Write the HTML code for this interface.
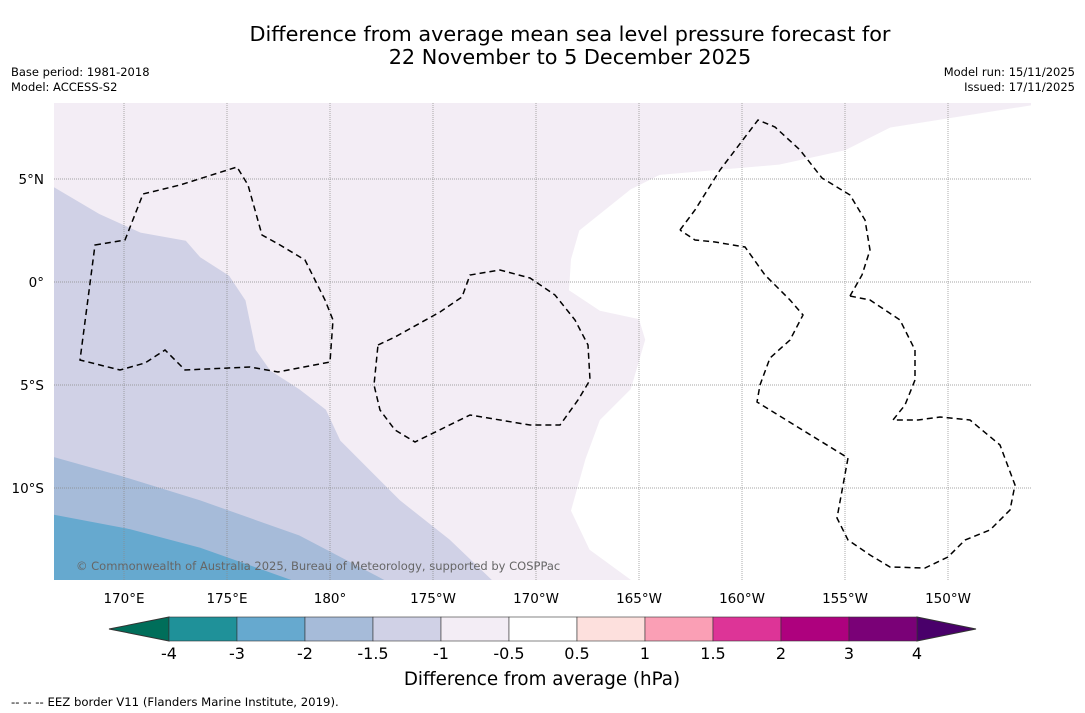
<!DOCTYPE html>
<html><head><meta charset="utf-8"><style>
body{margin:0;background:#fff;font-family:"DejaVu Sans","Liberation Sans",sans-serif;}
svg{display:block}
</style></head><body>
<svg id="c" width="1085" height="713" xmlns="http://www.w3.org/2000/svg" font-family="DejaVu Sans, Liberation Sans, sans-serif">
<text x="570" y="41" font-size="20.8" text-anchor="middle">Difference from average mean sea level pressure forecast for</text>
<text x="570" y="64" font-size="20.8" text-anchor="middle">22 November to 5 December 2025</text>
<text x="11" y="76" font-size="11.5">Base period: 1981-2018</text>
<text x="11" y="91" font-size="11.5">Model: ACCESS-S2</text>
<text x="1075" y="76" font-size="11.5" text-anchor="end">Model run: 15/11/2025</text>
<text x="1075" y="91" font-size="11.5" text-anchor="end">Issued: 17/11/2025</text>
<defs><clipPath id="mc"><rect x="54" y="103" width="977" height="477"/></clipPath></defs>
<g id="map" clip-path="url(#mc)"></g>
<g id="eez" clip-path="url(#mc)" fill="none" stroke="#000" stroke-width="1.5" stroke-dasharray="6,4">
<path d="M95,245 L125,240 L143,194 L180,185 L237,167 L248,185 L262,235 L280,245 L305,260 L325,300 L333,320 L330,362 L278,372 L250,367 L185,370 L165,350 L145,363 L120,370 L80,360 Z"/>
<path d="M378,345 L395,337 L440,312 L462,297 L470,275 L500,270 L530,278 L555,295 L575,320 L588,345 L590,380 L578,400 L560,425 L530,425 L470,415 L415,442 L395,430 L380,410 L374,385 Z"/>
<path d="M680,230 L695,210 L720,170 L758,120 L775,127 L800,150 L822,178 L850,195 L865,220 L870,250 L862,275 L850,296"/>
<path d="M850,296 L870,300 L900,320 L915,350 L915,380 L905,405 L893,420 L918,420 L940,417 L970,420 L1000,445 L1015,485 L1010,510 L990,530 L965,540 L948,557 L925,568 L890,567 L870,555 L848,540 L837,518 L848,458 L757,402 L760,385 L770,358 L790,340 L803,315 L790,300 L765,275 L745,247 L715,242 L695,240 L680,230"/>
</g>
<text x="76" y="570" font-size="11.5" fill="#666">© Commonwealth of Australia 2025, Bureau of Meteorology, supported by COSPPac</text>
<g id="axes"></g>
<g id="cbar"></g>
<text x="542" y="685" font-size="18.3" text-anchor="middle">Difference from average (hPa)</text>
<text x="11" y="706" font-size="11.7">-- -- -- EEZ border V11 (Flanders Marine Institute, 2019).</text>
</svg>
<script>
const lonTicks=[170,175,180,185,190,195,200,205,210];
const lonLabels=["170°E","175°E","180°","175°W","170°W","165°W","160°W","155°W","150°W"];
const latTicks=[5,0,-5,-10];
const latLabels=["5°N","0°","5°S","10°S"];
const levels=["-4","-3","-2","-1.5","-1","-0.5","0.5","1","1.5","2","3","4"];
const levelColors=["#1f9199","#66a9cf","#a6bbd9","#d0d1e6","#f3edf5","#ffffff","#fde0dd","#fa9fb5","#dd3497","#ae017e","#7a0177"];
const contourMinus1=[[166.6,4.6],[168.8,3.3],[170.8,2.4],[173.0,2.0],[173.7,1.2],[175.1,0.3],[175.9,-0.9],[176.4,-3.3],[177.1,-4.3],[178.5,-5.2],[179.8,-6.2],[180.5,-7.7],[183.4,-10.6],[185.8,-12.5],[188.0,-14.6]];
const contourMinus1_5=[[166.6,-8.5],[169.8,-9.4],[173.7,-10.6],[178.5,-12.3],[182.9,-14.6]];
const contourMinus2=[[166.6,-11.3],[170.3,-12.0],[173.7,-12.9],[178.5,-14.6]];
const contourMinus0_5=[[214.2,8.6],[207.2,7.5],[205,6.4],[201.8,5.7],[196,5.2],[194.6,4.5],[192.1,2.5],[191.7,1.1],[191.6,-0.4],[193.1,-1.4],[195,-1.8],[195.3,-2.8],[194.6,-5.2],[193.1,-6.7],[192.4,-8.6],[191.7,-11.1],[192.6,-13],[194.8,-14.6]];
const NS='http://www.w3.org/2000/svg';
const X=lon=>124+(lon-170)*20.6, Y=lat=>282-lat*20.6;
function mk(t,a,p){const e=document.createElementNS(NS,t);for(const k in a)e.setAttribute(k,a[k]);p.appendChild(e);return e;}
const map=document.getElementById('map');
mk('rect',{x:54,y:103,width:977,height:477,fill:'#f3edf5'},map);
function poly(pts,close,fill,name){
  const d=pts.map(p=>X(p[0]).toFixed(1)+','+Y(p[1]).toFixed(1)).join(' ')+' '+close;
  const e=mk('polygon',{points:d,fill:fill},map);
  
  
}
poly(contourMinus0_5,'1040,590 1040,95',levelColors[5],'region-above-minus-0-5');
poly(contourMinus1,'40,590',levelColors[3],'region-minus-1-5-to-minus-1');
poly(contourMinus1_5,'40,590',levelColors[2],'region-minus-2-to-minus-1-5');
poly(contourMinus2,'40,590',levelColors[1],'region-minus-3-to-minus-2');
const ax=document.getElementById('axes');
lonTicks.forEach((l,i)=>{
  const g=mk('line',{x1:X(l),x2:X(l),y1:103,y2:580,stroke:'#888','stroke-width':0.7,'stroke-dasharray':'1,1'},map);
  
  
  const t=mk('text',{x:X(l),y:603,'font-size':13.5,'text-anchor':'middle'},ax);t.textContent=lonLabels[i];
  
  
});
latTicks.forEach((l,i)=>{
  const g=mk('line',{x1:54,x2:1031,y1:Y(l),y2:Y(l),stroke:'#888','stroke-width':0.7,'stroke-dasharray':'1,1'},map);
  
  
  const t=mk('text',{x:44,y:Y(l)+5,'font-size':13.5,'text-anchor':'end'},ax);t.textContent=latLabels[i];
  
  
});
const cb=document.getElementById('cbar');
const cx0=169,cw=68,ctop=617,ch=24;
const lt=mk('polygon',{points:`${cx0},${ctop} ${cx0},${ctop+ch} 109,${ctop+ch/2}`,fill:'#006e5a',stroke:'#333','stroke-width':1},cb);


const rt=mk('polygon',{points:`${cx0+11*cw},${ctop} ${cx0+11*cw},${ctop+ch} 976,${ctop+ch/2}`,fill:'#49006a',stroke:'#333','stroke-width':1},cb);


levelColors.forEach((c,i)=>{
  const r=mk('rect',{x:cx0+i*cw,y:ctop,width:cw,height:ch,fill:c,stroke:'#333','stroke-width':0.6},cb);
  
  
});
levels.forEach((s,i)=>{
  const t=mk('text',{x:cx0+i*cw,y:659,'font-size':16,'text-anchor':'middle'},cb);t.textContent=s;
  
  
});
</script>
</body></html>
